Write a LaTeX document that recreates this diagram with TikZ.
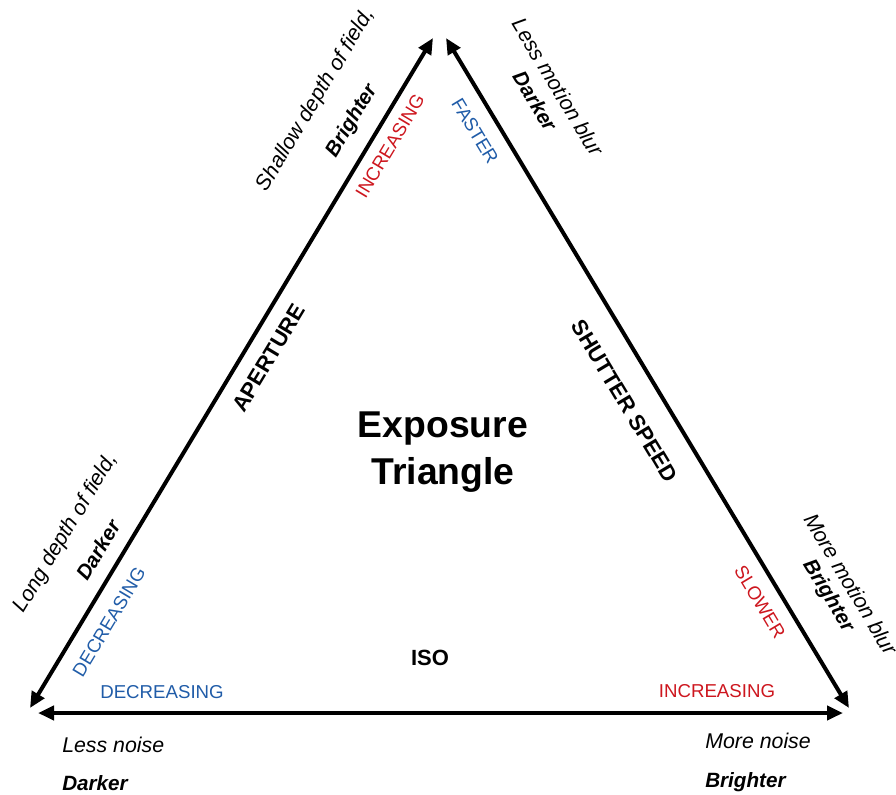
\documentclass[tikz,border=0pt]{standalone}
\usepackage{fontspec}
\setmainfont{Liberation Sans}
\usetikzlibrary{arrows.meta}

\definecolor{upred}{RGB}{205,22,30}
\definecolor{downblue}{RGB}{32,92,168}

\tikzset{
  side/.style={line width=3pt,
    {Triangle[length=12pt,width=10.5pt]}-{Triangle[length=12pt,width=10.5pt]}},
  sidename/.style={font=\fontsize{16.5}{20}\selectfont\bfseries, inner sep=0pt},
  tag/.style={font=\fontsize{14}{17}\selectfont, inner sep=0pt},
  effect/.style={font=\fontsize{16}{19}\selectfont\itshape, inner sep=0pt},
  result/.style={font=\fontsize{15.5}{19}\selectfont\bfseries\itshape, inner sep=0pt}
}

\begin{document}
\begin{tikzpicture}[x=0.75pt, y=-0.75pt]
    \useasboundingbox (0,0) rectangle (896,794);

    % corners of the triangle (arrow tips)
    \coordinate (apB) at (30,708);
    \coordinate (apT) at (433,38);
    \coordinate (shT) at (446,38);
    \coordinate (shB) at (849,708);
    \coordinate (isoL) at (38,713);
    \coordinate (isoR) at (843,713);

    % the three sides
    \draw[side] (apB) -- (apT);
    \draw[side] (shT) -- (shB);
    \draw[side] (isoL) -- (isoR);

    % title
    \node[font=\fontsize{28}{35}\selectfont\bfseries, align=center] (title) at (443,452) {Exposure\\Triangle};

    % side names
    \node[sidename, rotate=59] (aperture) at (269,358) {APERTURE};
    \node[sidename, rotate=-59] (shutter) at (625,401) {SHUTTER SPEED};
    \node[sidename] (iso) at (430,658) {ISO};

    % direction tags
    \node[tag, text=upred, rotate=59] (apUp) at (390,146) {INCREASING};
    \node[tag, text=downblue, rotate=59] (apDown) at (109,622) {DECREASING};
    \node[tag, text=downblue, rotate=-59] (shFast) at (475,131) {FASTER};
    \node[tag, text=upred, rotate=-59] (shSlow) at (760,602) {SLOWER};
    \node[tag, text=downblue] (isoDown) at (162,692) {DECREASING};
    \node[tag, text=upred] (isoUp) at (717,691) {INCREASING};

    % effects at the ends of each side
    \node[effect, rotate=59] (shallow) at (316,100) {Shallow depth of field,};
    \node[result, rotate=59] (shallowB) at (352,121) {Brighter};
    \node[effect, rotate=59] (long) at (66,533) {Long depth of field,};
    \node[result, rotate=59] (longD) at (98,550) {Darker};

    \node[effect, rotate=-59] (lessBlur) at (558,87) {Less motion blur};
    \node[result, rotate=-59] (lessBlurD) at (535,101) {Darker};
    \node[effect, rotate=-59] (moreBlur) at (851,584) {More motion blur};
    \node[result, rotate=-59] (moreBlurB) at (828,596) {Brighter};

    \node[effect, anchor=base west] (lessNoise) at (62,752) {Less noise};
    \node[result, anchor=base west] (lessNoiseD) at (62,790) {Darker};
    \node[effect, anchor=base west] (moreNoise) at (705,748) {More noise};
    \node[result, anchor=base west] (moreNoiseB) at (705,787) {Brighter};
\end{tikzpicture}
\end{document}
